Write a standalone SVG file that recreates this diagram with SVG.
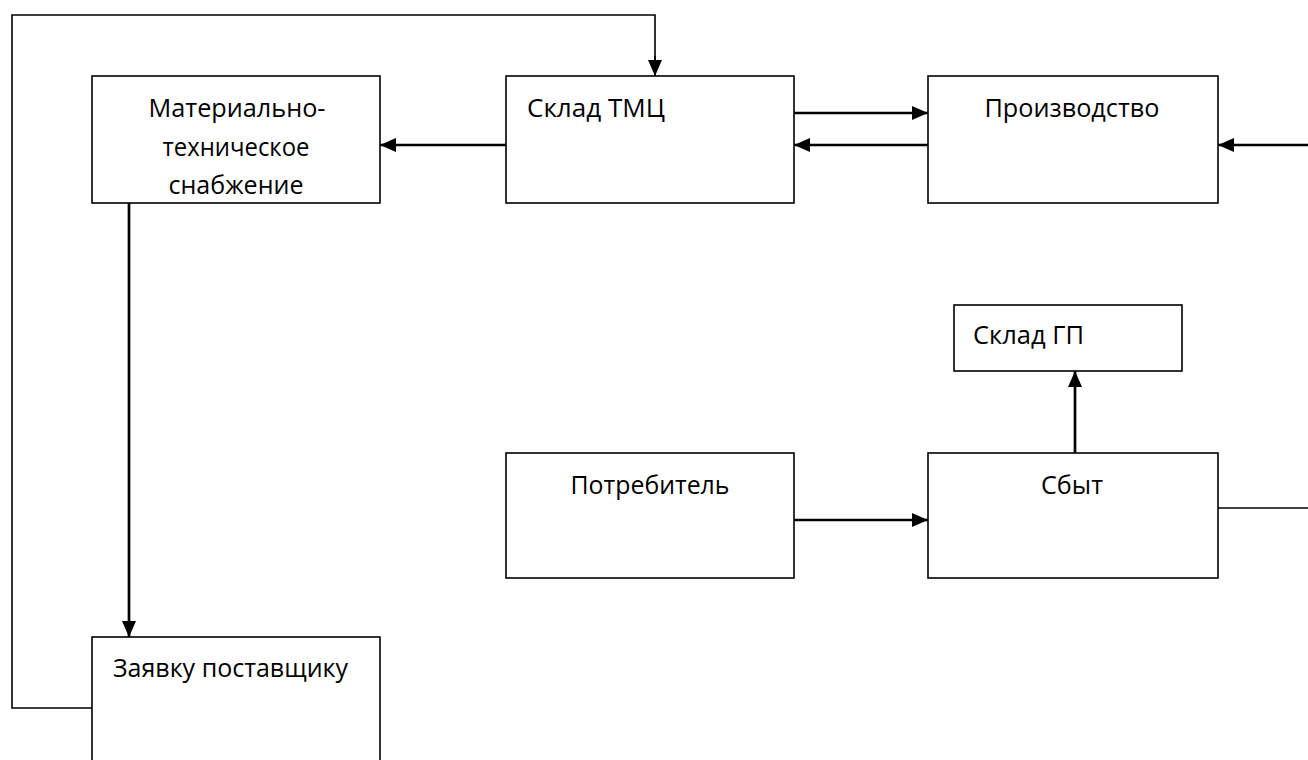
<svg xmlns="http://www.w3.org/2000/svg" width="1308" height="760" viewBox="0 0 1308 760">
  <style>
    .box { fill: #ffffff; stroke: #000000; stroke-width: 1.6; }
    .lbl { font-family: "Open Sans", "Noto Sans", sans-serif; font-size: 26px; fill: #000000; }
    .mid { text-anchor: middle; }
    .arr { fill: none; stroke: #000000; stroke-width: 2.7; marker-end: url(#head); }
    .thin { fill: none; stroke: #000000; stroke-width: 1.6; }
    .thinArr { fill: none; stroke: #000000; stroke-width: 1.8; marker-end: url(#head); }
  </style>
  <defs>
    <marker id="head" viewBox="0 0 16 14" refX="16" refY="7" markerWidth="16" markerHeight="14" markerUnits="userSpaceOnUse" orient="auto">
      <path d="M0,0 L16,7 L0,14 Z" fill="#000000"/>
    </marker>
  </defs>
  <rect width="1308" height="760" fill="#ffffff"/>

  <g id="connectors">
    <!-- supplier request loop back to the materials warehouse -->
    <path class="thin" d="M92,708 H12 V15 H655 V62"/>
    <path class="thinArr" d="M655,56 V76"/>
    <!-- procurement to supplier request -->
    <path class="arr" d="M129,203 V637"/>
    <!-- warehouse to procurement -->
    <path class="arr" d="M506,145 H380"/>
    <!-- warehouse <-> production -->
    <path class="arr" d="M794,113 H928"/>
    <path class="arr" d="M928,145 H794"/>
    <!-- sales back to production along the right edge -->
    <path class="thin" d="M1218,508 H1312"/>
    <path class="arr" d="M1312,145 H1218"/>
    <!-- consumer to sales -->
    <path class="arr" d="M794,520 H928"/>
    <!-- sales to finished goods warehouse -->
    <path class="arr" d="M1075,453 V371"/>
  </g>

  <g id="node-mts">
    <rect class="box" x="92" y="76" width="288" height="127"/>
    <text class="lbl mid" x="237" y="117" textLength="177" lengthAdjust="spacingAndGlyphs">Материально-</text>
    <text class="lbl mid" x="236" y="156" textLength="147" lengthAdjust="spacingAndGlyphs">техническое</text>
    <text class="lbl mid" x="236" y="194" textLength="135" lengthAdjust="spacingAndGlyphs">снабжение</text>
  </g>

  <g id="node-sklad-tmc">
    <rect class="box" x="506" y="76" width="288" height="127"/>
    <text class="lbl" x="527" y="117" textLength="138" lengthAdjust="spacingAndGlyphs">Склад ТМЦ</text>
  </g>

  <g id="node-proizvodstvo">
    <rect class="box" x="928" y="76" width="290" height="127"/>
    <text class="lbl mid" x="1072" y="117" textLength="175" lengthAdjust="spacingAndGlyphs">Производство</text>
  </g>

  <g id="node-sklad-gp">
    <rect class="box" x="954" y="305" width="228" height="66"/>
    <text class="lbl" x="973" y="344" textLength="111" lengthAdjust="spacingAndGlyphs">Склад ГП</text>
  </g>

  <g id="node-potrebitel">
    <rect class="box" x="506" y="453" width="288" height="125"/>
    <text class="lbl mid" x="650" y="494" textLength="159" lengthAdjust="spacingAndGlyphs">Потребитель</text>
  </g>

  <g id="node-sbyt">
    <rect class="box" x="928" y="453" width="290" height="125"/>
    <text class="lbl mid" x="1072" y="494" textLength="62" lengthAdjust="spacingAndGlyphs">Сбыт</text>
  </g>

  <g id="node-zayavka">
    <rect class="box" x="92" y="637" width="288" height="130"/>
    <text class="lbl" x="113" y="677" textLength="235" lengthAdjust="spacingAndGlyphs">Заявку поставщику</text>
  </g>
</svg>
